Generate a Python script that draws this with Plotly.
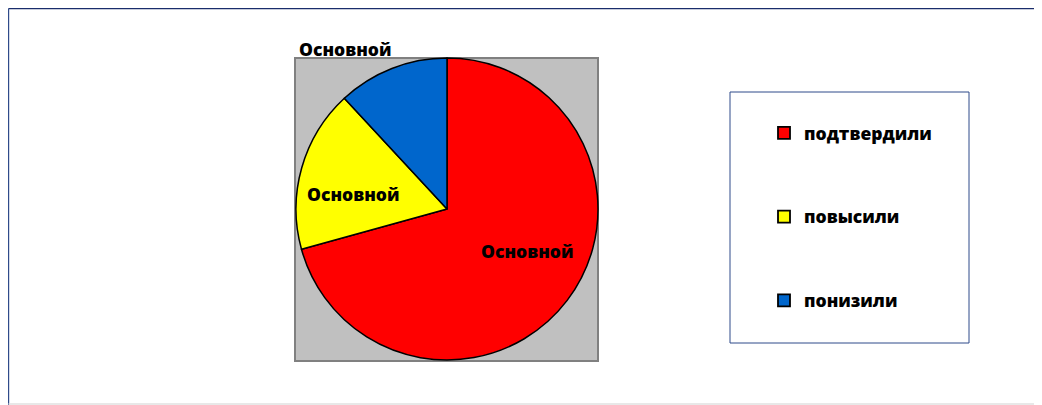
import plotly.graph_objects as go

W, H = 1042, 405
OFF = 8  # page body margin
FW, FH = W - OFF, H - OFF

categories = ["подтвердили", "повысили", "понизили"]
values = [70.7, 17.4, 11.9]
slice_labels = ["Основной", "Основной", "Основной"]
colors = ["#FF0000", "#FFFF00", "#0066CC"]

def px(x):
    return (x - OFF) / FW

def py(y):
    return 1 - (y - OFF) / FH

FONT = "Open Sans"

fig = go.Figure()

fig.add_trace(go.Pie(
    labels=categories,
    values=values,
    sort=False,
    direction="clockwise",
    rotation=0,
    marker=dict(colors=colors, line=dict(color="black", width=1.5)),
    textinfo="none",
    hoverinfo="label+value",
    showlegend=False,
    domain=dict(x=[px(296), px(598)], y=[py(360), py(58)]),
))

for cat, col in zip(categories, colors):
    fig.add_trace(go.Scatter(
        x=[None], y=[None], mode="markers", name=cat, legendgroup=cat,
        marker=dict(symbol="square", size=12, color=col, line=dict(color="black", width=1.8)),
        showlegend=True,
    ))

label_pos = [(527, 251), (353, 194), (345, 49)]
annotations = []
for (lx, ly), txt in zip(label_pos, slice_labels):
    annotations.append(dict(
        x=px(lx), y=py(ly), xref="paper", yref="paper", text=txt,
        showarrow=False, xanchor="center", yanchor="middle",
        font=dict(family=FONT, size=17.5, color="black", weight=800),
    ))

shapes = [
    dict(type="rect", xref="paper", yref="paper", x0=px(295), x1=px(598), y0=py(361), y1=py(58),
         fillcolor="#C0C0C0", line=dict(color="#808080", width=2), layer="below"),
    dict(type="rect", xref="paper", yref="paper", x0=px(730), x1=px(969), y0=py(343), y1=py(92),
         fillcolor="white", line=dict(color="#2F4A8A", width=1), layer="below"),
    dict(type="line", xref="paper", yref="paper", x0=px(8.5), x1=px(1042), y0=py(8.6), y1=py(8.6),
         line=dict(color="#1A2D6B", width=1.4)),
    dict(type="line", xref="paper", yref="paper", x0=px(8.6), x1=px(8.6), y0=py(8.5), y1=py(405),
         line=dict(color="#2F4A8A", width=1.2)),
    dict(type="line", xref="paper", yref="paper", x0=px(8.5), x1=px(1042), y0=py(404), y1=py(404),
         line=dict(color="#E0E0E0", width=1.5)),
]

fig.update_layout(
    width=FW, height=FH,
    margin=dict(l=0, r=0, t=0, b=0),
    paper_bgcolor="white", plot_bgcolor="white",
    xaxis=dict(visible=False), yaxis=dict(visible=False),
    showlegend=True,
    legend=dict(
        x=px(764), y=py(115), xanchor="left", yanchor="top",
        bgcolor="rgba(0,0,0,0)", borderwidth=0,
        font=dict(family=FONT, size=17.5, color="black", weight=800),
        tracegroupgap=58, itemclick=False, itemdoubleclick=False,
    ),
    annotations=annotations,
    shapes=shapes,
)

fig.write_html("out.html")
